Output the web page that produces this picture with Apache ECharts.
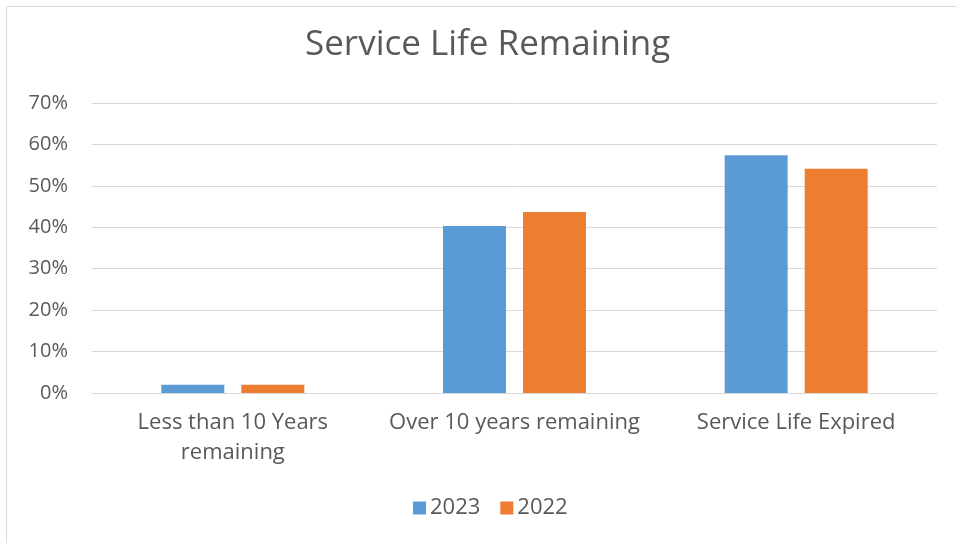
<!DOCTYPE html>
<html>
<head>
<meta charset="utf-8">
<script src="https://cdn.jsdelivr.net/npm/echarts@6/dist/echarts.min.js"></script>
<style>html,body{margin:0;padding:0;background:#fff}#c{width:956px;height:543px}</style>
</head>
<body>
<div id="c"></div>
<script>
const categories = ['Less than 10 Years\nremaining', 'Over 10 years remaining', 'Service Life Expired'];
const series2023 = [2.0, 40.3, 57.4];
const series2022 = [2.0, 43.7, 54.1];
const yTicks = [0, 10, 20, 30, 40, 50, 60, 70];

const FONT = 'Open Sans';
const TXT = '#595959';
const chart = echarts.init(document.getElementById('c'), null, {renderer: 'canvas'});
chart.setOption({
  animation: false,
  backgroundColor: '#fff',
  graphic: [{
    type: 'rect', left: 4, top: 4, z: -1,
    shape: {width: 1100, height: 700},
    style: {fill: 'none', stroke: '#D9D9D9', lineWidth: 1}
  }],
  title: {
    text: 'Service Life Remaining', left: 300, top: 23,
    textStyle: {fontFamily: FONT, fontSize: 35, fontWeight: 'normal', color: TXT}
  },
  legend: {
    bottom: 19, left: 408, itemWidth: 13, itemHeight: 13, itemGap: 20,
    icon: 'rect',
    textStyle: {fontFamily: FONT, fontSize: 22, color: TXT, padding: [0,0,0,-1]},
    data: ['2023', '2022']
  },
  grid: {left: 92, right: 19, top: 103, bottom: 150, containLabel: false},
  xAxis: {
    type: 'category', data: categories,
    axisLine: {lineStyle: {color: '#D9D9D9', width: 1}},
    axisTick: {show: false},
    axisLabel: {fontFamily: FONT, fontSize: 22, color: TXT, margin: 15, lineHeight: 30, interval: 0}
  },
  yAxis: {
    type: 'value', min: yTicks[0], max: yTicks[yTicks.length-1], interval: 10,
    axisLine: {show: false}, axisTick: {show: false},
    splitLine: {lineStyle: {color: '#D9D9D9', width: 1}},
    axisLabel: {fontFamily: FONT, fontSize: 20, color: TXT, margin: 24, formatter: v => v + '%'}
  },
  series: [
    {name: '2023', type: 'bar', data: series2023, barWidth: 63, barGap: '27%', itemStyle: {color: '#5B9BD5'}},
    {name: '2022', type: 'bar', data: series2022, barWidth: 63, barGap: '27%', itemStyle: {color: '#ED7D31'}}
  ]
});
</script>
</body>
</html>
